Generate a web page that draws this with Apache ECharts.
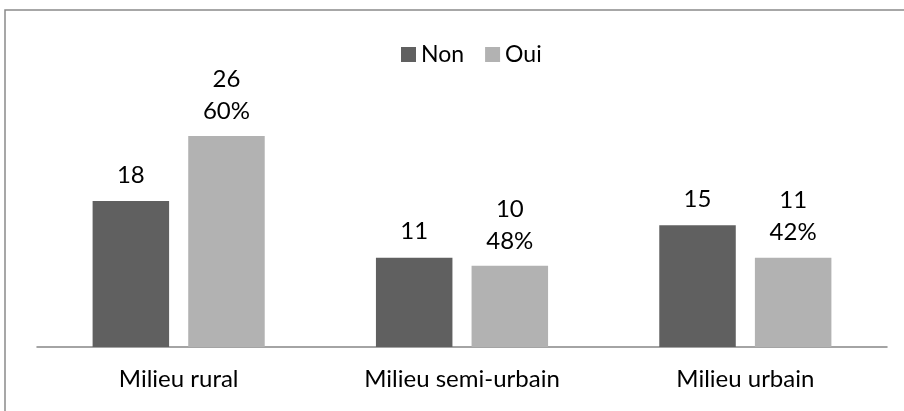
<!DOCTYPE html>
<html>
<head>
<meta charset="utf-8">
<style>
  html, body { margin: 0; padding: 0; background: #fff; }
  #chart { width: 904px; height: 411px; }
</style>
<script src="https://cdn.jsdelivr.net/npm/echarts@6/dist/echarts.min.js"></script>
</head>
<body>
<div id="chart"></div>
<script>
// Milieu de résidence : effectifs "Non" / "Oui" et part de "Oui"
const categories = ['Milieu rural', 'Milieu semi-urbain', 'Milieu urbain'];
const nonValues = [18, 11, 15];
const ouiValues = [26, 10, 11];
const ouiShares = ['60%', '48%', '42%'];

const FONT = 'Lato, "Open Sans", sans-serif';
const chart = echarts.init(document.getElementById('chart'), null, { renderer: 'canvas' });

chart.setOption({
  animation: false,
  backgroundColor: '#ffffff',
  textStyle: { fontFamily: FONT },
  graphic: [{
    type: 'rect',
    shape: { x: 5, y: 10, width: 1000, height: 500 },
    style: { fill: 'none', stroke: '#8a8a8a', lineWidth: 1.5 },
    silent: true
  }],
  legend: {
    top: 38,
    left: 396,
    itemWidth: 15,
    itemHeight: 15,
    itemGap: 21,
    icon: 'rect',
    textStyle: { fontFamily: FONT, fontSize: 23, color: '#000' },
    data: ['Non', 'Oui']
  },
  grid: { left: 37, right: 17, top: 63, bottom: 64, containLabel: false },
  xAxis: {
    type: 'category',
    data: categories,
    axisLine: { show: true, lineStyle: { color: '#868686', width: 1.5 } },
    axisTick: { show: false },
    axisLabel: { fontFamily: FONT, fontSize: 24, color: '#000', margin: 20 }
  },
  yAxis: {
    type: 'value',
    min: 0,
    max: 35,
    show: false,
    splitLine: { show: false }
  },
  series: [
    {
      name: 'Non',
      type: 'bar',
      data: nonValues,
      barWidth: '27%',
      barGap: '25%',
      itemStyle: { color: '#606060' },
      label: {
        show: true,
        position: 'top',
        distance: 14,
        fontFamily: FONT,
        fontSize: 24,
        color: '#000'
      }
    },
    {
      name: 'Oui',
      type: 'bar',
      data: ouiValues,
      barWidth: '27%',
      itemStyle: { color: '#b2b2b2' },
      label: {
        show: true,
        position: 'top',
        distance: 9,
        fontFamily: FONT,
        fontSize: 24,
        lineHeight: 32,
        align: 'center',
        color: '#000',
        formatter: p => p.value + '\n' + ouiShares[p.dataIndex]
      }
    }
  ]
});
</script>
</body>
</html>
